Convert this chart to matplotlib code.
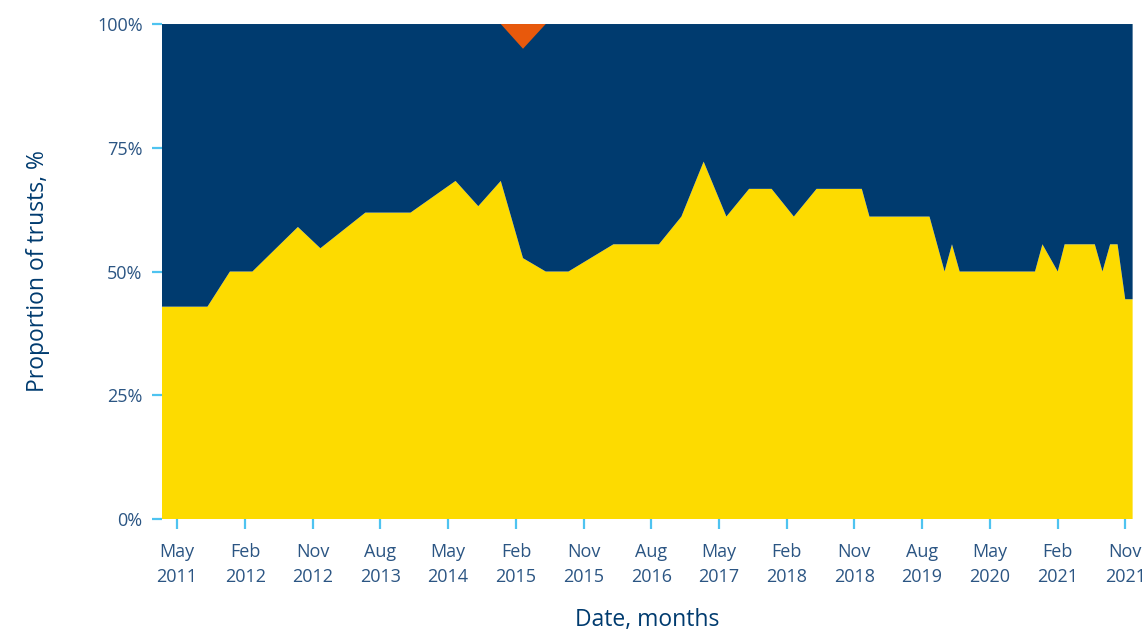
import numpy as np
import pandas as pd
import matplotlib
matplotlib.use("Agg")
import matplotlib.pyplot as plt
import matplotlib.dates as mdates

# share of trusts (yellow band), % by month of data point
months = ["2011-03", "2011-09", "2011-12", "2012-03", "2012-09", "2012-12",
          "2013-06", "2013-12", "2014-06", "2014-09", "2014-12", "2015-03",
          "2015-06", "2015-09", "2016-03", "2016-09", "2016-12", "2017-03",
          "2017-06", "2017-09", "2017-12", "2018-03", "2018-06", "2018-12",
          "2019-01", "2019-09", "2019-11", "2019-12", "2020-01", "2020-11",
          "2020-12", "2021-02", "2021-03", "2021-07", "2021-08", "2021-09",
          "2021-10", "2021-11", "2021-12"]
share = [42.9, 42.9, 50.0, 50.0, 59.0, 54.7,
         61.9, 61.9, 68.3, 63.2, 68.3, 52.7,
         50.0, 50.0, 55.5, 55.5, 61.1, 72.2,
         61.1, 66.7, 66.7, 61.1, 66.7, 66.7,
         61.1, 61.1, 50.0, 55.5, 50.0, 50.0,
         55.5, 50.0, 55.5, 55.5, 50.0, 55.5,
         55.5, 44.4, 44.4]

event_month = "2015-03"   # orange marker at the top
event_halfwidth = 3       # months
event_depth = 5           # %

dates = pd.to_datetime(months)
share = np.array(share)
rest = 100 - share

navy = "#003B6F"
yellow = "#FDDB00"
orange = "#E8590C"
tickblue = "#4EC3F0"
textblue = "#2B5583"

plt.rcParams["font.family"] = ["Open Sans", "DejaVu Sans"]

fig = plt.figure(figsize=(11.48, 6.37), dpi=100)
ax = fig.add_axes([0.1411, 0.1852, 0.8455, 0.7771])

ax.stackplot(dates, share, rest, colors=[yellow, navy], linewidth=0)

ev = pd.Timestamp(event_month)
off = pd.DateOffset(months=event_halfwidth)
ax.fill([ev - off, ev, ev + off], [100, 100 - event_depth, 100],
        color=orange, lw=0, zorder=3)

ax.set_xlim(dates[0], dates[-1])
ax.set_ylim(0, 100)

xt = pd.date_range("2011-05-01", "2021-11-01", freq="9MS")
ax.set_xticks(xt)
ax.xaxis.set_major_formatter(mdates.DateFormatter("%b\n%Y"))
ax.set_yticks([0, 25, 50, 75, 100])
ax.set_yticklabels(["0%", "25%", "50%", "75%", "100%"])

for s in ax.spines.values():
    s.set_visible(False)

ax.tick_params(axis="both", colors=tickblue, width=1.6, length=7,
               labelcolor=textblue, labelsize=13)
ax.tick_params(axis="x", pad=10)
ax.tick_params(axis="y", pad=7)
for lbl in ax.get_xticklabels():
    lbl.set_linespacing(1.5)

ax.set_xlabel("Date, months", color=navy, fontsize=16.5, labelpad=16)
ax.set_ylabel("Proportion of trusts, %", color=navy, fontsize=16.5, labelpad=34)

fig.savefig("out.png", dpi=100)
